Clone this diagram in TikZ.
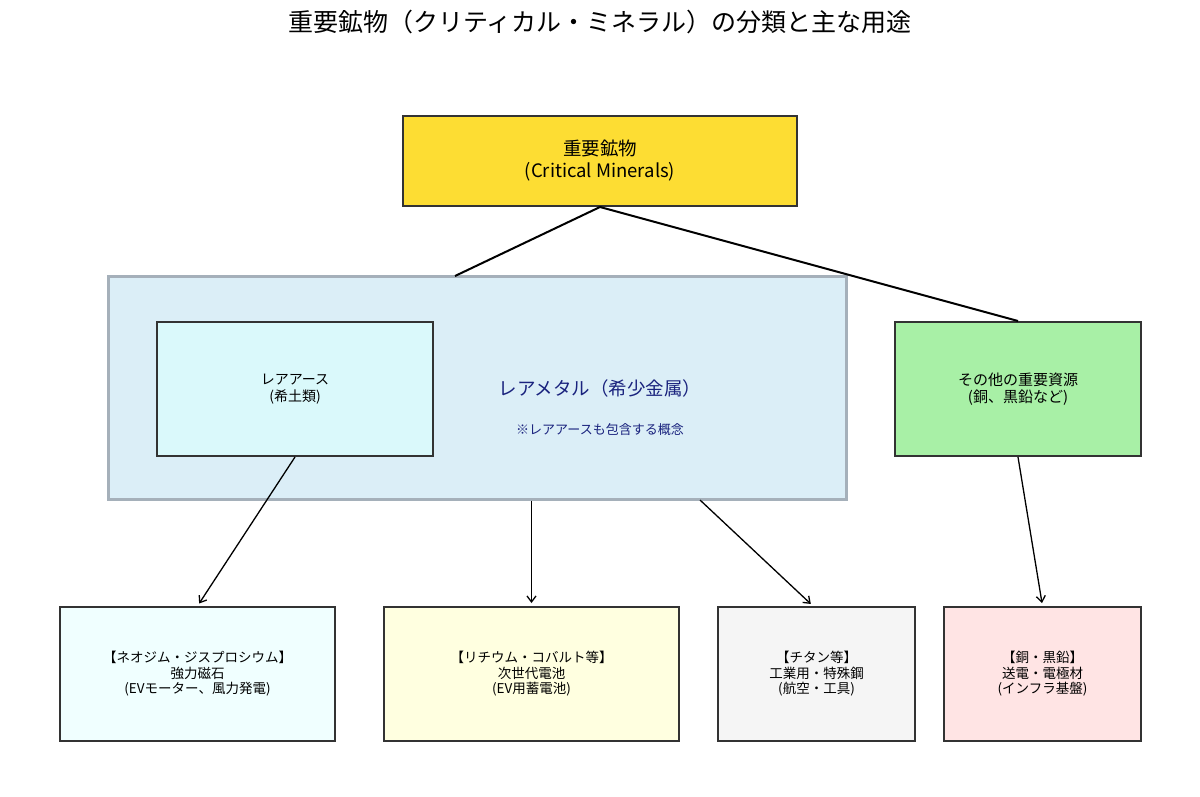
\documentclass[tikz,border=0pt]{standalone}
\usepackage{fontspec}
\setmainfont{Noto Sans CJK JP}
\usepackage{tikz}
\usetikzlibrary{arrows.meta}
\usepackage{xcolor}
\definecolor{goldbox}{RGB}{253,221,51}
\definecolor{metalbg}{RGB}{219,238,247}
\definecolor{metalline}{RGB}{165,176,186}
\definecolor{earthbg}{RGB}{218,249,251}
\definecolor{otherbg}{RGB}{168,240,166}
\definecolor{navytext}{RGB}{26,35,126}
\definecolor{boxline}{RGB}{51,51,51}
\definecolor{useA}{RGB}{240,255,255}
\definecolor{useB}{RGB}{255,255,224}
\definecolor{useC}{RGB}{245,245,245}
\definecolor{useD}{RGB}{255,228,228}
\newcommand{\fsz}[2]{\fontsize{#1}{#2}\selectfont}

\begin{document}
\begin{tikzpicture}[x=1pt,y=-1pt,
  box/.style={draw=boxline,line width=2pt,inner sep=0pt,align=center},
  usebox/.style={box,minimum height=134,font=\fsz{13.5}{15.5}},
  link/.style={line width=2pt},
  usearrow/.style={line width=1.3pt,-{Straight Barb[length=6pt,width=9pt,line width=1.3pt]},shorten >=3pt}]
\useasboundingbox[fill=white] (0,0) rectangle (1200,796);
\node[font=\fsz{25}{30}] (title) at (600,22) {重要鉱物（クリティカル・ミネラル）の分類と主な用途};
\node[box,fill=goldbox,minimum width=394,minimum height=90,font=\fsz{18.5}{22}] (minerals) at (600,161) {重要鉱物\\(Critical Minerals)};
\node[draw=metalline,fill=metalbg,line width=3pt,inner sep=0pt,minimum width=738,minimum height=223] (raremetal) at (477,387.5) {};
\node[box,fill=earthbg,minimum width=276,minimum height=134,font=\fsz{14}{16.5}] (rareearth) at (295,389) {レアアース\\(希土類)};
\node[text=navytext,font=\fsz{18.5}{21}] (metallabel) at (600,388) {レアメタル（希少金属）};
\node[text=navytext,font=\fsz{13}{15}] (metalnote) at (600,430) {※レアアースも包含する概念};
\node[box,fill=otherbg,minimum width=246,minimum height=134,font=\fsz{15}{16.5}] (others) at (1018,389) {その他の重要資源\\(銅、黒鉛など)};
\node[usebox,fill=useA,minimum width=275] (magnet) at (197.5,674) {【ネオジム・ジスプロシウム】\\強力磁石\\(EVモーター、風力発電)};
\node[usebox,fill=useB,minimum width=295] (battery) at (531.5,674) {【リチウム・コバルト等】\\次世代電池\\(EV用蓄電池)};
\node[usebox,fill=useC,minimum width=197] (steel) at (816.5,674) {【チタン等】\\工業用・特殊鋼\\(航空・工具)};
\node[usebox,fill=useD,minimum width=197] (grid) at (1042.5,674) {【銅・黒鉛】\\送電・電極材\\(インフラ基盤)};
\coordinate (metaltop) at (455,276);
\coordinate (metalout) at (700,500);
\draw[link] (minerals.south) -- (metaltop);
\draw[link] (minerals.south) -- (others.north);
\draw[usearrow] (rareearth.south) -- (magnet.north);
\draw[usearrow] (raremetal.south -| battery.north) -- (battery.north);
\draw[usearrow] (metalout) -- (steel.north -| 813,0);
\draw[usearrow] (others.south) -- (grid.north);
\end{tikzpicture}
\end{document}
